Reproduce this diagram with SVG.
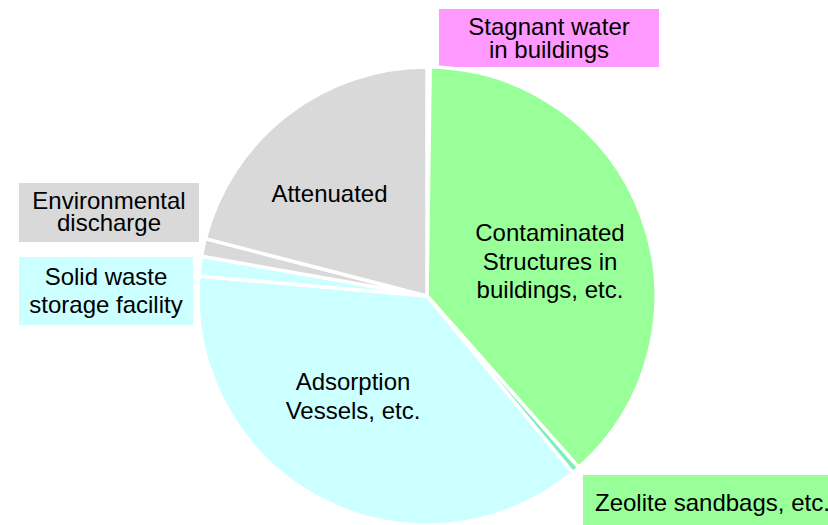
<svg xmlns="http://www.w3.org/2000/svg" width="828" height="525" viewBox="0 0 828 525">
  <style>
    .slice { stroke: #ffffff; stroke-width: 3.5; stroke-linejoin: round; }
    .lbl { font-family: "Liberation Sans", Arial, sans-serif; font-size: 24px; fill: #000000; text-anchor: middle; }
    .lbl-start { text-anchor: start; }
    .gray { fill: #d9d9d9; }
    .green { fill: #99ff99; }
    .cyan { fill: #ccffff; }
    .pink { fill: #ff99ff; }
    .mint { fill: #80eebb; }
  </style>
  <rect x="0" y="0" width="828" height="525" fill="#ffffff"/>

  <!-- Pie centred at (427,296), radius 229, slices clockwise from 12 o'clock -->
  <g id="stagnant-water">
    <path class="slice pink" d="M427,296 L427,67 A229,229 0 0 1 430.20,67.01 Z"/>
    <rect class="pink" x="439" y="9" width="220" height="58"/>
    <text class="lbl" x="549" y="35">Stagnant water</text>
    <text class="lbl" x="549" y="57.5">in buildings</text>
  </g>

  <g id="contaminated-structures">
    <path class="slice green" d="M427,296 L430.20,67.01 A229,229 0 0 1 578.74,467.52 Z"/>
    <text class="lbl" x="550" y="241">Contaminated</text>
    <text class="lbl" x="550" y="270">Structures in</text>
    <text class="lbl" x="550" y="298">buildings, etc.</text>
  </g>

  <g id="zeolite-sandbags">
    <path class="slice mint" d="M427,296 L578.74,467.52 A229,229 0 0 1 572.67,472.70 Z"/>
    <rect class="green" x="583" y="475" width="245" height="50"/>
    <text class="lbl lbl-start" x="595" y="511">Zeolite sandbags, etc.</text>
  </g>

  <g id="adsorption-vessels">
    <path class="slice cyan" d="M427,296 L572.67,472.70 A229,229 0 0 1 198.87,276.04 Z"/>
    <text class="lbl" x="353" y="390">Adsorption</text>
    <text class="lbl" x="353" y="419">Vessels, etc.</text>
  </g>

  <g id="solid-waste-storage">
    <path class="slice cyan" d="M427,296 L198.87,276.04 A229,229 0 0 1 201.48,256.23 Z"/>
    <rect class="cyan" x="19" y="257" width="174" height="68"/>
    <text class="lbl" x="106" y="285">Solid waste</text>
    <text class="lbl" x="106" y="312.5">storage facility</text>
  </g>

  <g id="environmental-discharge">
    <path class="slice gray" d="M427,296 L201.48,256.23 A229,229 0 0 1 205.30,238.66 Z"/>
    <rect class="gray" x="19" y="183" width="180" height="59"/>
    <text class="lbl" x="109" y="209">Environmental</text>
    <text class="lbl" x="109" y="231">discharge</text>
  </g>

  <g id="attenuated">
    <path class="slice gray" d="M427,296 L205.30,238.66 A229,229 0 0 1 427,67 Z"/>
    <text class="lbl" x="329.5" y="202">Attenuated</text>
  </g>

  <!-- no connectors: labels sit beside their slices -->
  <g id="connectors"/>
</svg>
